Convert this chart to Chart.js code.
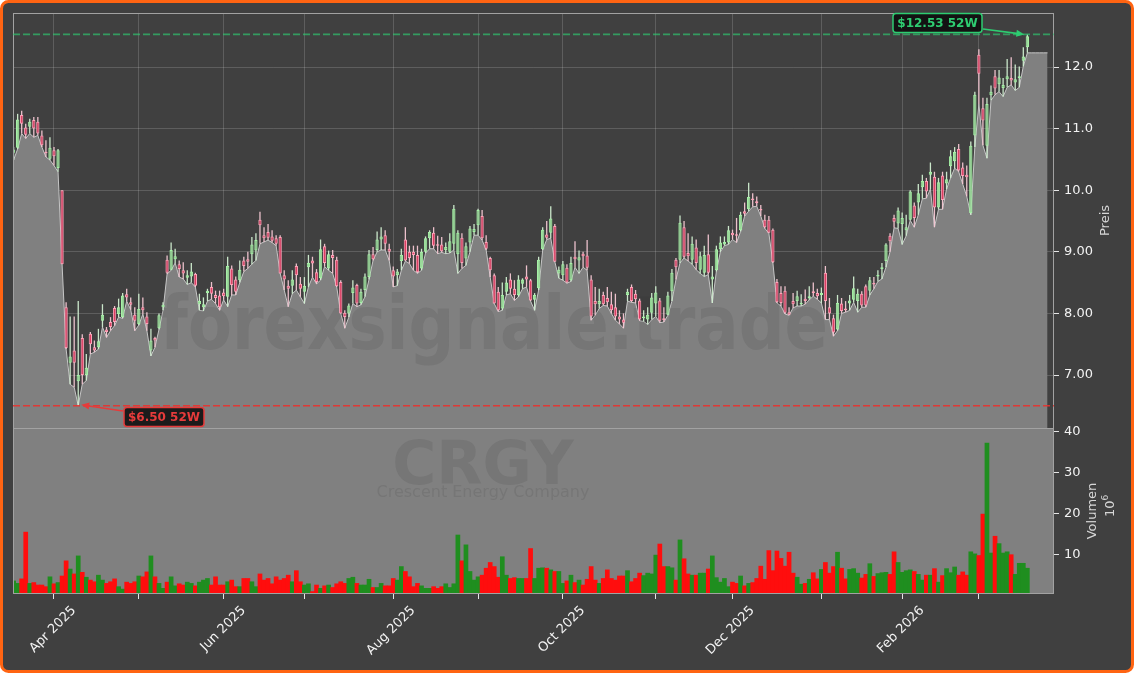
<!DOCTYPE html>
<html>
<head>
<meta charset="utf-8">
<script src="https://cdn.jsdelivr.net/npm/chart.js"></script>
<style>
  html, body { margin: 0; padding: 0; background: #ffffff; }
  #wrap { width: 1134px; height: 673px; }
</style>
</head>
<body>
<div id="wrap"><canvas id="chart" width="1134" height="673"></canvas></div>
<script>
// CRGY daily candles, 18 Mar 2025 .. 18 Mar 2026 (one entry per trading day, x = trading-day index)
const open = [
  10.61,10.69,11.22,11.02,11.03,11.14,11.11,10.89,10.62,10.51,
  10.65,10.36,10.00,8.10,7.20,7.40,6.90,7.60,7.00,7.67,
  7.45,7.45,7.88,7.74,7.86,8.09,7.99,7.94,8.31,8.18,
  7.98,7.83,8.10,7.95,7.40,7.60,7.76,8.10,8.87,8.71,
  8.88,8.80,8.70,8.58,8.60,8.64,8.15,8.10,8.33,8.43,
  8.30,8.29,8.34,8.27,8.73,8.55,8.54,8.86,8.88,8.96,
  9.02,9.52,9.27,9.32,9.25,9.22,9.24,8.62,8.45,8.45,
  8.77,8.48,8.35,8.75,8.86,8.67,8.57,9.09,8.73,8.95,
  8.87,8.51,8.01,8.00,8.33,8.46,8.17,8.38,8.59,8.96,
  9.03,9.20,9.27,9.05,8.70,8.62,8.85,9.20,9.00,9.00,
  8.95,8.73,9.00,9.22,9.31,9.12,9.12,9.03,9.00,9.13,
  8.96,9.23,8.89,9.15,9.32,9.43,9.58,9.16,8.90,8.62,
  8.35,8.08,8.35,8.55,8.40,8.30,8.48,8.60,8.54,8.22,
  8.41,9.04,9.28,9.31,9.42,8.65,8.62,8.74,8.54,8.92,
  8.86,8.97,8.94,8.55,8.20,8.15,8.30,8.25,8.15,8.10,
  7.95,7.90,8.30,8.43,8.32,8.21,7.92,7.90,8.01,8.16,
  8.21,7.92,7.98,8.36,8.87,8.87,9.40,8.98,8.87,9.07,
  8.71,8.66,8.96,8.55,8.70,9.04,9.12,9.15,9.31,9.27,
  9.35,9.66,9.69,9.85,9.82,9.69,9.52,9.52,9.36,8.51,
  8.33,8.37,8.02,8.20,8.20,8.15,8.24,8.25,8.36,8.33,
  8.30,8.66,8.10,7.92,7.74,8.16,8.08,8.16,8.22,8.20,
  8.32,8.44,8.37,8.49,8.60,8.72,8.85,9.26,9.55,9.46,
  9.45,9.35,9.52,9.75,9.80,10.05,10.15,10.25,10.22,9.72,
  10.24,10.11,10.39,10.47,10.67,10.37,10.25,9.63,10.89,12.20,
  11.33,10.72,11.54,11.85,11.72,11.66,11.80,11.82,11.75,11.82,
  12.10,12.32
];
const high = [
  10.70,11.24,11.29,11.08,11.16,11.19,11.19,10.97,10.81,10.86,
  10.70,10.67,10.00,8.18,7.95,7.95,8.20,7.66,7.34,7.70,
  7.56,7.75,8.15,7.78,7.94,8.12,8.24,8.33,8.40,8.26,
  8.10,8.32,8.26,8.02,7.75,7.62,8.00,8.18,8.94,9.15,
  9.05,8.86,8.83,8.70,8.82,8.66,8.32,8.26,8.40,8.51,
  8.37,8.37,8.40,8.92,8.78,8.60,8.86,8.92,9.00,9.24,
  9.30,9.65,9.40,9.45,9.35,9.27,9.27,8.70,8.54,8.70,
  8.81,8.59,8.59,8.95,8.92,8.72,9.20,9.13,9.02,9.03,
  8.92,8.54,8.05,8.16,8.54,8.48,8.40,8.65,9.03,9.08,
  9.33,9.40,9.35,9.13,8.76,8.72,9.05,9.40,9.10,9.10,
  9.10,9.05,9.25,9.35,9.40,9.26,9.24,9.15,9.30,9.76,
  9.35,9.30,9.15,9.42,9.45,9.70,9.68,9.27,8.92,8.65,
  8.43,8.50,8.59,8.65,8.54,8.62,8.57,8.78,8.56,8.33,
  8.92,9.40,9.50,9.74,9.45,8.76,8.85,8.80,8.92,9.17,
  9.02,9.00,9.19,8.62,8.43,8.40,8.35,8.43,8.35,8.32,
  8.05,8.00,8.40,8.47,8.38,8.24,8.05,8.10,8.33,8.44,
  8.25,8.10,8.35,8.72,8.90,9.59,9.50,9.30,9.25,9.20,
  9.00,9.10,9.28,8.77,9.10,9.25,9.25,9.42,9.36,9.55,
  9.65,9.80,10.12,9.95,9.90,9.76,9.60,9.58,9.38,8.56,
  8.44,8.44,8.10,8.33,8.37,8.31,8.39,8.44,8.50,8.40,
  8.42,8.77,8.25,7.98,8.30,8.25,8.20,8.30,8.60,8.40,
  8.36,8.47,8.59,8.59,8.70,8.82,9.14,9.30,9.60,9.72,
  9.64,9.60,10.00,9.80,10.10,10.25,10.20,10.45,10.30,10.20,
  10.30,10.30,10.65,10.70,10.75,10.45,10.40,10.79,11.60,12.29,
  11.50,11.50,11.70,11.95,11.95,11.82,12.13,12.16,12.04,12.01,
  12.32,12.53
];
const low = [
  10.49,10.67,10.92,10.84,10.92,10.86,10.89,10.70,10.54,10.49,
  10.40,10.30,8.80,7.42,6.85,6.80,6.50,6.85,6.91,7.34,
  7.37,7.42,7.78,7.61,7.72,7.80,7.94,7.92,8.20,8.06,
  7.72,7.81,7.99,7.72,7.31,7.45,7.74,8.05,8.64,8.70,
  8.82,8.59,8.56,8.47,8.50,8.43,8.05,8.04,8.20,8.23,
  8.16,8.05,8.22,8.11,8.30,8.30,8.50,8.68,8.73,8.80,
  8.86,9.13,9.16,9.19,9.15,9.10,8.65,8.38,8.11,8.32,
  8.38,8.27,8.16,8.43,8.59,8.48,8.54,8.76,8.70,8.65,
  8.43,8.00,7.76,7.94,8.16,8.11,8.14,8.27,8.55,8.86,
  9.00,9.03,9.03,8.86,8.43,8.45,8.70,8.85,8.81,8.70,
  8.65,8.70,8.98,9.05,9.05,8.97,8.99,8.97,8.98,9.03,
  8.65,8.73,8.78,9.00,9.27,9.27,9.19,9.03,8.59,8.16,
  8.03,8.05,8.30,8.32,8.21,8.27,8.40,8.43,8.20,8.05,
  8.38,9.03,9.20,9.22,8.84,8.57,8.54,8.49,8.52,8.75,
  8.65,8.75,8.70,7.89,7.97,8.08,8.13,8.12,8.00,7.89,
  7.83,7.76,8.20,8.18,8.17,7.88,7.87,7.82,7.90,7.95,
  7.85,7.86,7.97,8.20,8.55,8.82,8.90,8.85,8.80,8.71,
  8.65,8.60,8.63,8.17,8.68,9.00,9.10,9.12,9.20,9.15,
  9.33,9.58,9.66,9.73,9.74,9.58,9.38,9.30,8.82,8.17,
  8.12,7.99,7.97,8.09,8.12,8.12,8.15,8.22,8.28,8.23,
  8.17,7.90,7.90,7.63,7.72,8.00,8.02,8.05,8.18,8.02,
  8.10,8.10,8.30,8.40,8.52,8.56,8.75,9.00,9.39,9.38,
  9.12,9.26,9.51,9.40,9.60,9.86,9.87,10.02,9.40,9.69,
  9.69,10.02,10.20,10.36,10.30,10.10,9.90,9.60,10.70,11.40,
  10.73,10.52,11.46,11.55,11.60,11.52,11.67,11.71,11.62,11.67,
  12.01,12.23
];
const close = [
  10.66,11.15,11.08,10.90,11.11,11.00,10.92,10.73,10.60,10.69,
  10.55,10.65,8.80,7.44,7.30,7.20,7.00,7.00,7.12,7.50,
  7.40,7.55,7.98,7.70,7.78,7.86,8.10,8.29,8.26,8.14,
  7.88,8.07,8.05,7.83,7.56,7.56,7.97,8.14,8.66,9.03,
  8.93,8.72,8.65,8.62,8.68,8.45,8.20,8.15,8.37,8.32,
  8.25,8.10,8.28,8.77,8.46,8.35,8.71,8.77,8.84,9.12,
  9.19,9.43,9.22,9.23,9.18,9.13,8.65,8.55,8.40,8.55,
  8.62,8.40,8.45,8.82,8.81,8.51,9.04,8.82,8.96,8.90,
  8.44,8.00,7.94,8.13,8.42,8.16,8.35,8.60,8.96,8.88,
  9.20,9.25,9.13,9.00,8.60,8.68,8.95,8.86,8.90,8.95,
  8.67,9.00,9.22,9.32,9.10,9.10,9.01,9.08,9.17,9.70,
  9.31,8.82,9.09,9.38,9.37,9.68,9.22,9.05,8.70,8.16,
  8.05,8.30,8.50,8.40,8.30,8.55,8.55,8.55,8.21,8.30,
  8.87,9.36,9.23,9.54,8.84,8.71,8.80,8.50,8.82,8.88,
  8.91,8.93,8.74,7.95,8.15,8.20,8.15,8.18,8.05,7.95,
  7.90,7.85,8.35,8.20,8.23,7.90,7.95,7.98,8.26,8.34,
  7.88,7.89,8.29,8.66,8.75,9.47,8.92,8.93,9.13,8.82,
  8.93,8.95,8.66,8.60,9.04,9.15,9.16,9.35,9.27,9.26,
  9.60,9.62,9.89,9.84,9.79,9.67,9.40,9.31,8.83,8.18,
  8.17,8.01,7.98,8.15,8.28,8.17,8.20,8.28,8.33,8.28,
  8.33,8.20,8.00,7.69,8.17,8.04,8.05,8.21,8.41,8.32,
  8.13,8.13,8.54,8.47,8.62,8.75,9.12,9.17,9.49,9.67,
  9.55,9.40,9.98,9.55,9.95,10.15,9.98,10.30,9.72,10.13,
  9.84,10.18,10.55,10.62,10.32,10.23,10.21,10.72,11.55,11.89,
  11.13,11.40,11.60,11.65,11.83,11.71,11.85,11.78,11.80,11.85,
  12.17,12.50
];
// volume in millions of shares
const volume = [
  3.6,3.0,4.1,15.5,3.0,3.2,2.6,2.6,2.2,4.6,
  2.9,3.2,4.8,8.5,6.5,5.3,9.7,5.7,4.5,3.8,
  3.4,5.0,3.8,3.0,3.4,4.1,2.2,1.6,3.3,3.0,
  3.4,4.8,4.6,5.8,9.7,4.6,3.0,1.8,3.3,4.6,
  2.4,2.9,2.6,3.3,3.0,2.4,3.3,3.8,4.2,2.6,
  4.6,2.6,2.6,3.4,3.8,2.2,2.2,4.2,4.2,3.4,
  2.2,5.3,3.8,4.2,2.9,4.6,3.8,4.2,5.0,3.4,
  6.1,3.4,2.6,2.9,1.0,2.6,1.8,2.4,2.6,2.0,
  2.9,3.4,3.0,4.2,4.5,3.0,2.6,2.6,4.0,2.0,
  2.0,3.0,2.4,2.4,4.2,3.8,7.1,5.9,4.6,2.2,
  3.0,2.4,1.8,1.8,2.2,1.8,2.2,2.9,2.0,2.9,
  14.8,8.5,12.4,5.9,3.8,4.6,5.0,6.7,8.1,7.1,
  4.5,9.5,5.0,4.2,4.4,4.2,4.2,4.2,11.5,4.2,
  6.7,6.8,6.7,6.3,5.9,5.9,3.0,3.6,5.0,3.2,
  3.8,2.6,4.0,7.1,3.8,3.0,4.2,6.3,4.2,3.8,
  4.8,4.8,6.1,3.4,4.2,5.5,4.9,5.5,5.3,9.9,
  12.6,7.1,7.1,6.8,3.8,13.6,9.0,5.3,5.0,5.0,
  5.5,5.5,6.5,9.7,4.4,3.3,4.2,2.2,3.3,3.0,
  4.8,2.4,3.0,3.2,4.2,7.2,4.0,11.0,6.1,10.9,
  9.1,7.2,10.6,5.5,4.5,2.8,3.0,4.0,5.6,4.1,
  6.4,8.1,5.5,7.1,10.6,6.7,4.1,6.4,6.6,5.5,
  4.3,5.2,7.8,4.7,5.4,5.6,5.7,5.2,10.7,8.1,
  5.7,6.1,6.3,5.9,5.2,3.8,5.0,5.0,6.6,3.3,
  4.9,6.6,5.6,7.0,5.0,5.8,5.0,10.7,10.2,9.8,
  19.9,37.2,10.4,14.5,12.7,10.4,10.7,10.0,5.2,7.9,
  7.9,6.7
];
// the low-line area runs on a few sessions past the last candle
const lowTail = [12.23, 12.23, 12.23, 12.23, 12.23];

// first trading day of each month (trading-day index) and its label
const tickIdx    = [10, 31, 52, 72, 94, 115, 136, 159, 178, 200, 220, 239];
const tickLabels = ['Apr 2025', '', 'Jun 2025', '', 'Aug 2025', '', 'Oct 2025', '', 'Dec 2025', '', 'Feb 2026', ''];
const priceTicks = [7, 8, 9, 10, 11, 12];
const volTicks   = [10, 20, 30, 40];

const FONT = '"DejaVu Sans", sans-serif';
const isUp = i => close[i] >= open[i];

const hi52 = Math.max(...high), lo52 = Math.min(...low);
const hiIdx = high.indexOf(hi52), loIdx = low.indexOf(lo52);

function arrow(ctx, x1, y1, x2, y2, color) {
  const ang = Math.atan2(y2 - y1, x2 - x1);
  ctx.save();
  ctx.strokeStyle = color;
  ctx.fillStyle = color;
  ctx.lineWidth = 1.6;
  ctx.beginPath();
  ctx.moveTo(x1, y1);
  ctx.lineTo(x2 - 6 * Math.cos(ang), y2 - 6 * Math.sin(ang));
  ctx.stroke();
  ctx.beginPath();
  ctx.moveTo(x2, y2);
  ctx.lineTo(x2 - 8 * Math.cos(ang) + 3.5 * Math.sin(ang), y2 - 8 * Math.sin(ang) - 3.5 * Math.cos(ang));
  ctx.lineTo(x2 - 8 * Math.cos(ang) - 3.5 * Math.sin(ang), y2 - 8 * Math.sin(ang) + 3.5 * Math.cos(ang));
  ctx.closePath();
  ctx.fill();
  ctx.restore();
}

function tag(ctx, x, y, w, h, text, color) {
  ctx.save();
  ctx.beginPath();
  ctx.roundRect(x, y, w, h, 3);
  ctx.fillStyle = 'rgba(12,12,12,0.88)';
  ctx.fill();
  ctx.lineWidth = 1.5;
  ctx.strokeStyle = color;
  ctx.stroke();
  ctx.fillStyle = color;
  ctx.font = 'bold 12px ' + FONT;
  ctx.textAlign = 'center';
  ctx.textBaseline = 'middle';
  ctx.fillText(text, x + w / 2, y + h / 2 + 0.5);
  ctx.restore();
}

const deco = {
  id: 'deco',
  beforeDraw(chart) {
    const ctx = chart.ctx;
    ctx.save();
    ctx.fillStyle = '#ffffff';
    ctx.fillRect(0, 0, chart.width, chart.height);
    ctx.beginPath();
    ctx.roundRect(1.5, 1.5, chart.width - 3, chart.height - 3, 7);
    ctx.fillStyle = '#404040';
    ctx.fill();
    ctx.lineWidth = 3;
    ctx.strokeStyle = '#ff6412';
    ctx.stroke();
    ctx.restore();
  },
  beforeDatasetsDraw(chart) {
    const {ctx, chartArea: a, scales: {yv}} = chart;
    ctx.save();
    ctx.fillStyle = '#808080';
    ctx.fillRect(a.left, yv.top, a.right - a.left, yv.bottom - yv.top);
    ctx.restore();
  },
  afterDatasetDraw(chart, args) {
    if (args.index !== 0) return;
    // watermarks sit on top of the area, under the candles
    const ctx = chart.ctx;
    ctx.save();
    ctx.fillStyle = 'rgba(40,40,40,0.11)';
    ctx.textAlign = 'center';
    ctx.textBaseline = 'alphabetic';
    ctx.font = 'bold 74px ' + FONT;
    const w = ctx.measureText('forexsignale.trade').width;
    ctx.save();
    ctx.translate(494, 349);
    ctx.scale(668 / w, 1);
    ctx.fillText('forexsignale.trade', 0, 0);
    ctx.restore();
    ctx.font = 'bold 60px ' + FONT;
    ctx.fillText('CRGY', 483, 484);
    ctx.font = '16px ' + FONT;
    ctx.fillText('Crescent Energy Company', 483, 497);
    ctx.restore();
  },
  afterDatasetsDraw(chart) {
    const {ctx, chartArea: a, scales: {x, y, yv}} = chart;
    ctx.save();
    // panel frames
    ctx.strokeStyle = '#a2a2a2';
    ctx.lineWidth = 1;
    ctx.strokeRect(a.left + 0.5, y.top + 0.5, a.right - a.left - 1, y.bottom - y.top);
    ctx.strokeRect(a.left + 0.5, yv.top + 0.5, a.right - a.left - 1, yv.bottom - yv.top - 1);
    // 52-week lines
    ctx.lineWidth = 1.6;
    ctx.setLineDash([7, 3]);
    const yh = y.getPixelForValue(hi52), yl = y.getPixelForValue(lo52);
    ctx.strokeStyle = 'rgba(46,204,113,0.65)';
    ctx.beginPath(); ctx.moveTo(a.left, yh); ctx.lineTo(a.right, yh); ctx.stroke();
    ctx.strokeStyle = 'rgba(232,50,45,0.9)';
    ctx.beginPath(); ctx.moveTo(a.left, yl); ctx.lineTo(a.right, yl); ctx.stroke();
    ctx.setLineDash([]);
    ctx.restore();
    // labels + arrows
    const xh = x.getPixelForValue(hiIdx), xl = x.getPixelForValue(loIdx);
    arrow(ctx, 983, 29, xh - 3, yh, '#2ecc71');
    tag(ctx, 893, 13.5, 89, 19, '$' + hi52.toFixed(2) + ' 52W', '#2ecc71');
    arrow(ctx, 123, 411, xl + 3, yl - 1, '#e63b3b');
    tag(ctx, 124, 407.5, 80, 19, '$' + lo52.toFixed(2) + ' 52W', '#e63b3b');
  },
  afterDraw(chart) {
    const {ctx, scales: {y, yv}} = chart;
    ctx.save();
    ctx.fillStyle = '#d6d6d6';
    ctx.font = '13px ' + FONT;
    ctx.textAlign = 'center';
    ctx.textBaseline = 'middle';
    const put = (txt, px, py) => {
      ctx.save(); ctx.translate(px, py); ctx.rotate(-Math.PI / 2); ctx.fillText(txt, 0, 0); ctx.restore();
    };
    put('Preis', 1106, (y.top + y.bottom) / 2);
    put('Volumen', 1093, (yv.top + yv.bottom) / 2);
    // offset text: 10 with a raised 6
    const cy = (yv.top + yv.bottom) / 2 - 4;
    ctx.save();
    ctx.translate(1111, cy);
    ctx.rotate(-Math.PI / 2);
    ctx.textAlign = 'left';
    ctx.fillText('10', -10, 0);
    ctx.font = '9px ' + FONT;
    ctx.fillText('6', 6.5, -5);
    ctx.restore();
    ctx.restore();
  }
};

const gridCol = 'rgba(255,255,255,0.16)';
const tickFont = {family: FONT, size: 13};

new Chart(document.getElementById('chart'), {
  type: 'bar',
  data: {
    datasets: [
      {
        type: 'line',
        data: low.concat(lowTail).map((v, i) => ({x: i, y: v})),
        yAxisID: 'y',
        borderColor: '#c6c6c6',
        borderWidth: 1,
        backgroundColor: '#808080',
        fill: 'start',
        pointRadius: 0,
        tension: 0,
        order: 4
      },
      {
        data: volume.map((v, i) => ({x: i, y: v})),
        yAxisID: 'yv',
        backgroundColor: c => isUp(c.dataIndex) ? '#1f8e1f' : '#ff0d0d',
        barThickness: 4.04,
        grouped: false,
        order: 3
      },
      {
        data: low.map((v, i) => ({x: i, y: [v, high[i]]})),
        yAxisID: 'y',
        backgroundColor: c => isUp(c.dataIndex) ? 'rgba(210,240,210,0.95)' : 'rgba(245,200,212,0.95)',
        barThickness: 1.3,
        inflateAmount: 0,
        grouped: false,
        order: 2
      },
      {
        data: open.map((v, i) => ({x: i, y: [v, close[i]]})),
        yAxisID: 'y',
        backgroundColor: c => isUp(c.dataIndex) ? 'rgba(120,205,120,0.55)' : '#dc3d62',
        borderColor: c => isUp(c.dataIndex) ? '#a6f2a6' : '#ffa3b8',
        borderWidth: 1,
        borderSkipped: false,
        barThickness: 3.3,
        minBarLength: 1.5,
        inflateAmount: 0,
        grouped: false,
        order: 1
      }
    ]
  },
  options: {
    responsive: false,
    animation: false,
    devicePixelRatio: 1,
    layout: {padding: {left: 13, top: 13, right: 0, bottom: 0}},
    plugins: {legend: {display: false}, tooltip: {enabled: false}},
    scales: {
      x: {
        type: 'linear',
        min: -0.15,
        max: 257.6,
        offset: false,
        afterBuildTicks: s => { s.ticks = tickIdx.map(v => ({value: v})); },
        afterFit: s => { s.height = 79; },
        grid: {offset: false, color: gridCol, tickLength: 5, tickColor: '#e6e6e6'},
        border: {display: false},
        ticks: {
          autoSkip: false, minRotation: 45, maxRotation: 45,
          color: '#f2f2f2', font: tickFont, padding: 4, labelOffset: 20,
          callback: (v, i) => tickLabels[i]
        }
      },
      y: {
        type: 'linear',
        position: 'right',
        stack: 'panels',
        stackWeight: 415,
        min: 6.14,
        max: 12.877,
        afterBuildTicks: s => { s.ticks = priceTicks.map(v => ({value: v})); },
        afterFit: s => { s.width = 80; },
        grid: {color: gridCol, tickLength: 5, tickColor: '#e6e6e6'},
        border: {display: false},
        ticks: {color: '#f2f2f2', font: tickFont, padding: 5,
          callback: v => v >= 10 ? v.toFixed(1) : v.toFixed(2)}
      },
      yv: {
        type: 'linear',
        position: 'right',
        stack: 'panels',
        stackWeight: 166,
        min: 0.41,
        max: 40.9,
        afterBuildTicks: s => { s.ticks = volTicks.map(v => ({value: v})); },
        afterFit: s => { s.width = 80; },
        grid: {drawOnChartArea: false, tickLength: 5, tickColor: '#e6e6e6'},
        border: {display: false},
        ticks: {color: '#f2f2f2', font: tickFont, padding: 5, callback: v => String(v)}
      }
    }
  },
  plugins: [deco]
});
</script>
</body>
</html>
